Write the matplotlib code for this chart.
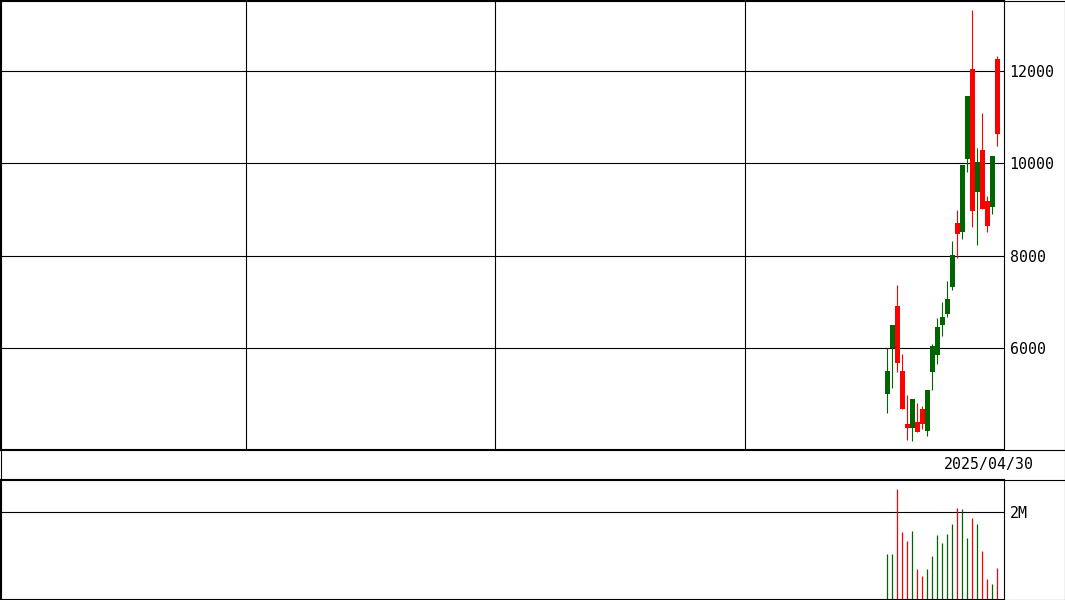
import numpy as np
import matplotlib
matplotlib.use("Agg")
import matplotlib.pyplot as plt
from matplotlib.lines import Line2D

# daily OHLC, oldest first
opens = [4994, 5991, 6908, 5499, 4350, 4270, 4394, 4676, 4205, 5484, 5852, 6502,
         6741, 7326, 8713, 8518, 10086, 12043, 9385, 10288, 9183, 9059, 12260]
highs = [5991, 6496, 7362, 5867, 4979, 4892, 4799, 4740, 5087, 6084, 6647, 6988,
         7450, 8316, 8988, 9963, 11458, 13322, 10331, 11090, 9291, 10165, 12325]
lows = [4582, 5137, 5484, 4682, 4004, 3989, 4177, 4236, 4097, 5087, 5651, 6258,
        6676, 7254, 7941, 8353, 9818, 8613, 8236, 9016, 8518, 8908, 10381]
closes = [5499, 6496, 5679, 4682, 4270, 4892, 4177, 4357, 5087, 6041, 6453, 6669,
          7059, 8013, 8461, 9963, 11458, 8973, 10028, 9016, 8648, 10165, 10641]
# volume in millions of shares
volumes = [1.04, 1.04, 2.54, 1.55, 1.34, 1.57, 0.69, 0.53, 0.69, 0.99, 1.48, 1.29,
           1.50, 1.73, 2.10, 2.08, 1.41, 1.87, 1.73, 1.11, 0.46, 0.35, 0.72]

price_ticks = [6000, 8000, 10000, 12000]
vol_ticks = [2.0]
vol_labels = ["2M"]
last_date = "2025/04/30"

UP = "#006400"
DOWN = "#ff0000"
W, H = 1065, 600
AX_R = 1004          # right edge of the plot panels (px)
PRICE_BOT = 449
VOL_TOP = 479
SLOT = 5.0           # px per trading day

fig = plt.figure(figsize=(W / 100, H / 100), dpi=100)
fs = 10.7
mono = "DejaVu Sans Mono"

ax = fig.add_axes([0, (H - PRICE_BOT) / H, AX_R / W, PRICE_BOT / H])
axv = fig.add_axes([0, 1 / H, AX_R / W, (H - VOL_TOP - 1) / H])

n = len(opens)
xmax = AX_R / SLOT
x = 997.3 / SLOT - (n - 1) + np.arange(n)
colors = [UP if c >= o else DOWN for o, c in zip(opens, closes)]

# price candles
for xi, o, h, l, c, col in zip(x, opens, highs, lows, closes, colors):
    ax.vlines(xi, l, h, color=col, lw=0.8, zorder=3)
    ax.bar(xi, abs(c - o) or 20, bottom=min(o, c), width=0.9, color=col,
           lw=0, zorder=3)

ax.set_xlim(0, xmax)
ax.set_ylim(3809, 13538)
for yv in price_ticks:
    ax.axhline(yv, color="black", lw=0.8, zorder=1)
for gx in [49.2, 99.0, 149.0]:
    ax.axvline(gx, color="black", lw=0.8, zorder=1)
ax.set_xticks([])
ax.yaxis.tick_right()
ax.set_yticks(price_ticks)
ax.set_yticklabels([str(t) for t in price_ticks], fontsize=fs, family=mono)
ax.tick_params(axis="y", length=0, pad=4)
for s in ax.spines.values():
    s.set_linewidth(0.8)

# volume bars
axv.vlines(x, 0, volumes, colors=colors, lw=0.9, zorder=3)
axv.set_xlim(0, xmax)
axv.set_ylim(0, (599 - VOL_TOP) / 86.7 * 2)
for yv in vol_ticks:
    axv.axhline(yv, color="black", lw=0.8, zorder=1)
axv.set_xticks([])
axv.yaxis.tick_right()
axv.set_yticks(vol_ticks)
axv.set_yticklabels(vol_labels, fontsize=fs, family=mono)
axv.tick_params(axis="y", length=0, pad=4)
for s in axv.spines.values():
    s.set_linewidth(0.8)

# date strip and outer frame
for yy in [PRICE_BOT, VOL_TOP]:
    fig.add_artist(Line2D([0, 1], [1 - (yy + 0.5) / H] * 2, color="black", lw=0.8))
fig.add_artist(Line2D([0.5 / W, 1 - 0.5 / W, 1 - 0.5 / W, 0.5 / W, 0.5 / W],
                      [1 - 0.5 / H, 1 - 0.5 / H, 0.5 / H, 0.5 / H, 1 - 0.5 / H],
                      color="black", lw=0.8))
fig.text(1034 / W, 1 - 465 / H, last_date, ha="right", va="center",
         fontsize=fs, family=mono)

fig.savefig("out.png", dpi=100)
